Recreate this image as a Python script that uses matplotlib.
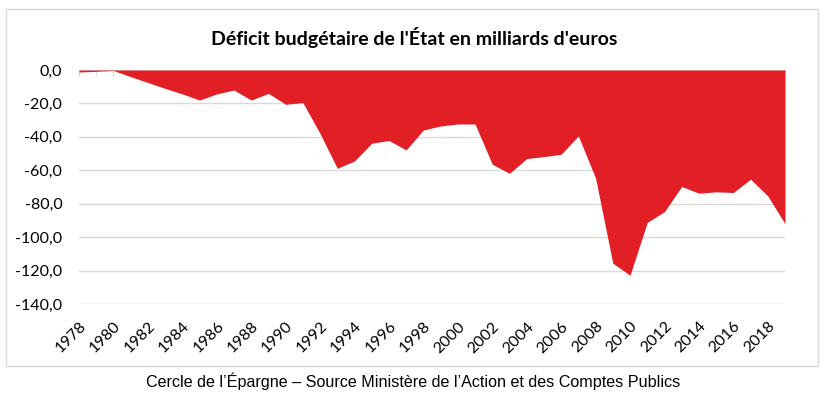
import numpy as np
import matplotlib.pyplot as plt
from matplotlib.patches import Rectangle
from matplotlib.ticker import FuncFormatter

# Données (milliards d'euros)
years = list(range(1978, 2020))
deficit = [-1.2, -0.8, -0.3, -4.0, -7.5, -11.0, -14.3, -18.0, -14.3, -12.0,
           -18.0, -14.0, -20.5, -19.5, -38.0, -58.8, -54.4, -43.8, -42.2, -47.8,
           -35.9, -33.5, -32.3, -32.3, -56.4, -61.8, -53.0, -51.8, -50.4, -39.4,
           -64.7, -115.6, -122.8, -91.2, -84.7, -69.7, -73.7, -72.9, -73.3, -65.3,
           -75.3, -92.0]
y_ticks = [0, -20, -40, -60, -80, -100, -120, -140]
label_years = list(range(1978, 2020, 2))

title = "Déficit budgétaire de l'État en milliards d'euros"
source = "Cercle de l’Épargne – Source Ministère de l’Action et des Comptes Publics"

red = '#E31F26'
grid_col = '#d9d9d9'
font = ['Lato', 'DejaVu Sans']

fig = plt.figure(figsize=(8.28, 3.94), dpi=100)
ax = fig.add_axes([79 / 828, 1 - 304 / 394, (785 - 79) / 828, (304 - 70) / 394])

ax.fill_between(years, deficit, 0, color=red, linewidth=0, zorder=2)

ax.set_xlim(1978, 2019)
ax.set_ylim(-140, 0)
ax.set_yticks(y_ticks)
ax.yaxis.set_major_formatter(FuncFormatter(lambda v, p: f"{v:.1f}".replace('.', ',')))
ax.grid(axis='y', color=grid_col, linewidth=1, zorder=0)
ax.set_axisbelow(True)

# ticks chaque année en haut (axe à 0), étiquettes une année sur deux en bas
ax.set_xticks(years, minor=True)
ax.set_xticks(label_years)
ax.set_xticklabels([str(y) for y in label_years], rotation=45, ha='right',
                   rotation_mode='anchor', fontsize=11.5, family=font)
ax.tick_params(axis='x', which='both', direction='in', top=True, bottom=False,
               labelbottom=True, length=4, color=grid_col, pad=11)
ax.tick_params(axis='y', length=0, pad=12, labelsize=11.5)
for lab in ax.get_yticklabels():
    lab.set_family(font)

for s in ax.spines.values():
    s.set_visible(False)

fig.add_artist(Rectangle((6 / 828, 1 - 366 / 394), 812 / 828, 357 / 394,
                         transform=fig.transFigure, fill=False,
                         edgecolor=grid_col, linewidth=1))

fig.text(414.5 / 828, 1 - 37 / 394, title, ha='center', va='center',
         fontsize=14, fontweight='bold', family=font)
fig.text(413 / 828, 1 - 381 / 394, source, ha='center', va='center',
         fontsize=11.6, family=['Liberation Sans', 'DejaVu Sans'])

fig.savefig('out.png', dpi=100)
